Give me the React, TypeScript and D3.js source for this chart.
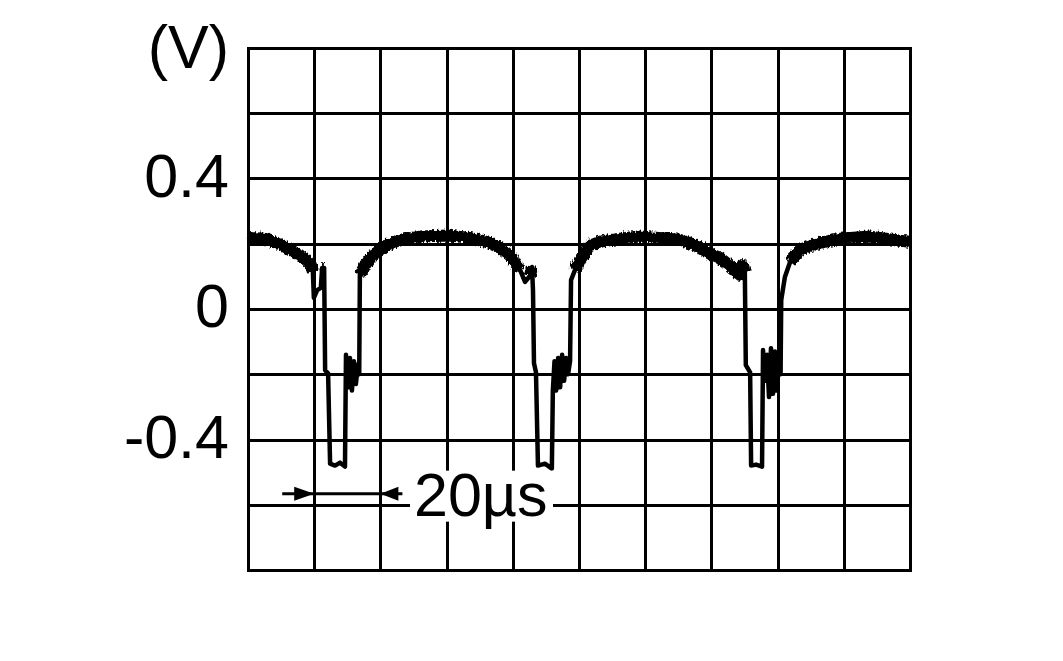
import React from "react";
import * as d3 from "d3";

// ---- data ----
const timeUs = [
  0, 5, 10, 14, 17.2, 19.0, 19.6, 19.9, 20.9, 22.0, 22.4, 23.0, 23.3, 24.2, 24.8, 26.3, 27.8, 29.3,
  29.6, 30.2, 30.8, 31.4, 32.0, 32.6, 33.2, 33.6, 33.8, 35.4, 37.5, 39.9, 42.9, 45.9, 52, 61, 67, 72,
  76.1, 79.2, 82.2, 83.7, 85.2, 85.8, 86.1, 86.4, 87.0, 87.6, 89.7, 91.8, 92.1, 92.6, 93.1, 93.7, 94.3,
  94.9, 95.5, 96.1, 96.7, 97.3, 97.6, 98.8, 100.3, 103.3, 106.3, 112, 118, 124, 130.5, 134, 136.6,
  139.6, 142.6, 145.6, 148.6, 149.5, 150.1, 150.4, 151.7, 152.0, 153.5, 155.3, 155.6, 156.2, 156.8,
  157.4, 158.0, 158.6, 159.2, 159.8, 160.4, 160.9, 161.1, 162.2, 163.8, 166.8, 172.8, 178.9, 187.9,
  197.0, 200,
];
const volts = [
  0.218, 0.215, 0.197, 0.175, 0.154, 0.135, 0.114, 0.034, 0.058, 0.065, 0.126, 0.126, -0.188, -0.197,
  -0.474, -0.48, -0.471, -0.483, -0.14, -0.24, -0.15, -0.25, -0.16, -0.23, -0.17, -0.2, 0.105, 0.135,
  0.163, 0.182, 0.2, 0.212, 0.222, 0.225, 0.218, 0.206, 0.188, 0.163, 0.12, 0.083, 0.102, 0.129,
  0.058, -0.166, -0.194, -0.48, -0.474, -0.489, -0.25, -0.16, -0.25, -0.15, -0.24, -0.14, -0.22,
  -0.15, -0.2, -0.16, 0.089, 0.12, 0.151, 0.194, 0.206, 0.215, 0.222, 0.218, 0.212, 0.2, 0.188,
  0.169, 0.157, 0.132, 0.105, 0.135, 0.114, -0.172, -0.194, -0.48, -0.477, -0.483, -0.126, -0.22,
  -0.14, -0.27, -0.12, -0.26, -0.13, -0.25, -0.16, -0.2, 0.028, 0.098, 0.145, 0.182, 0.203, 0.215,
  0.222, 0.209, 0.206,
];
const yTickValues = [0.4, 0, -0.4];
const yTickLabels = ["0.4", "0", "-0.4"];
const yUnitLabel = "(V)";
const scaleBarFrom = 20;
const scaleBarTo = 40;
const scaleBarLabel = "20\u00b5s";
const scaleBarLevel = -0.566;

const W = 1063;
const H = 661;
const plot = { left: 248, top: 48, right: 910, bottom: 570 };
const FONT = "'Liberation Sans', Arial, Helvetica, sans-serif";

export default function App() {
  const x = d3.scaleLinear().domain([0, 200]).range([plot.left, plot.right]);
  const y = d3.scaleLinear().domain([-0.8, 0.8]).range([plot.bottom, plot.top]);
  const snap = (p: number) => Math.round(p) + 0.5;

  const pts = timeUs.map((t, i) => ({ t, v: volts[i] }));
  const line = d3
    .line<{ t: number; v: number }>()
    .x((d) => x(d.t))
    .y((d) => y(d.v));
  const thick = d3
    .line<{ t: number; v: number }>()
    .defined((d) => d.v > 0.1)
    .x((d) => x(d.t))
    .y((d) => y(d.v));

  const xGrid = d3.range(0, 201, 20);
  const yGrid = d3.range(-0.8, 0.8001, 0.2);

  const ay = y(scaleBarLevel);
  const a1 = x(scaleBarFrom);
  const a2 = x(scaleBarTo);

  return (
    <svg
      width={W}
      height={H}
      style={{ position: "absolute", left: 0, top: 0, background: "#fff" }}
    >
      <defs>
        <filter id="noisy" x="-5%" y="-50%" width="110%" height="200%">
          <feTurbulence type="fractalNoise" baseFrequency="0.6 0.25" numOctaves={1} seed={3} result="n" />
          <feDisplacementMap in="SourceGraphic" in2="n" scale={6} xChannelSelector="R" yChannelSelector="G" />
        </filter>
      </defs>
      <rect x={0} y={0} width={W} height={H} fill="#fff" />
      <g stroke="#000" strokeWidth={3}>
        {xGrid.map((g) => (
          <line
            key={"x" + g}
            x1={snap(x(g))}
            x2={snap(x(g))}
            y1={plot.top - 1}
            y2={plot.bottom + 2}
          />
        ))}
        {yGrid.map((g, i) => (
          <line
            key={"y" + i}
            x1={plot.left - 1}
            x2={plot.right + 2}
            y1={snap(y(g))}
            y2={snap(y(g))}
          />
        ))}
      </g>
      <path d={line(pts) || ""} fill="none" stroke="#000" strokeWidth={4.5} strokeLinejoin="round" />
      <g filter="url(#noisy)">
        <path
          d={thick(pts) || ""}
          fill="none"
          stroke="#000"
          strokeWidth={12}
          strokeLinejoin="round"
          strokeLinecap="butt"
        />
      </g>

      {/* scale bar */}
      <rect x={410} y={ay - 23} width={143} height={51} fill="#fff" />
      <line x1={a1 - 32} x2={a2 + 22} y1={ay} y2={ay} stroke="#000" strokeWidth={3} />
      <path d={`M${a1},${ay} L${a1 - 20},${ay - 7} L${a1 - 20},${ay + 7} Z`} fill="#000" />
      <path d={`M${a2},${ay} L${a2 + 18},${ay - 7} L${a2 + 18},${ay + 7} Z`} fill="#000" />
      <text x={414} y={ay + 22} fontFamily={FONT} fontSize={61} fill="#000">
        {scaleBarLabel}
      </text>

      {/* y labels */}
      {yTickValues.map((v, i) => (
        <text
          key={i}
          x={229}
          y={y(v) + 18}
          textAnchor="end"
          fontFamily={FONT}
          fontSize={61}
          fill="#000"
        >
          {yTickLabels[i]}
        </text>
      ))}
      <text x={229} y={68} textAnchor="end" fontFamily={FONT} fontSize={61} fill="#000">
        {yUnitLabel}
      </text>
    </svg>
  );
}
